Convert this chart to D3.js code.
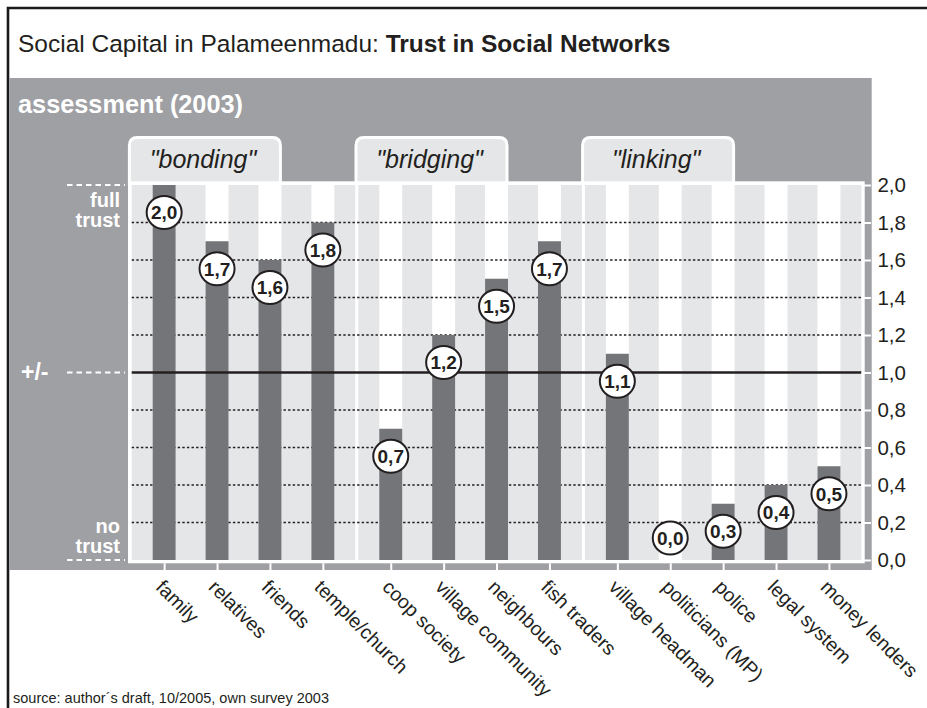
<!DOCTYPE html>
<html>
<head>
<meta charset="utf-8">
<script src="https://cdn.jsdelivr.net/npm/d3@7"></script>
<style>
  html, body { margin: 0; padding: 0; background: #fff; }
  svg { display: block; font-family: "Liberation Sans", Arial, Helvetica, sans-serif; }
</style>
</head>
<body>
<svg id="chart" width="927" height="708"></svg>
<script>
const groups = ['"bonding"', '"bridging"', '"linking"']
const categories = ['family', 'relatives', 'friends', 'temple/church',
  'coop society', 'village community', 'neighbours', 'fish traders',
  'village headman', 'politicians (MP)', 'police', 'legal system', 'money lenders']
const categoryGroup = ['"bonding"', '"bonding"', '"bonding"', '"bonding"',
  '"bridging"', '"bridging"', '"bridging"', '"bridging"',
  '"linking"', '"linking"', '"linking"', '"linking"', '"linking"']
const trust = [2.0, 1.7, 1.6, 1.8, 0.7, 1.2, 1.5, 1.7, 1.1, 0.0, 0.3, 0.4, 0.5]
const yTicks = [0, 0.2, 0.4, 0.6, 0.8, 1.0, 1.2, 1.4, 1.6, 1.8, 2.0]
const levelMarks = [2.0, 1.0, 0.0]
const levelText = [['full', 'trust'], ['+/-'], ['no', 'trust']]

const COLORS = {
  ink: '#231f20',
  panel: '#9fa0a4',
  light: '#e5e6e8',
  bar: '#747578'
}

const svg = d3.select('#chart')
const fmt = (v) => d3.format('.1f')(v).replace('.', ',')

const plotLeft = 131.7
const step = 52.9
const pad = 6
const sep = 3
const plotTop = 185
const plotBottom = 560

// group extents depend only on how many categories each group holds
let gx = plotLeft
const groupExtent = new Map()
groups.forEach((g) => {
  const n = categoryGroup.filter((c) => c === g).length
  const x0 = gx
  const x1 = gx + n * step + 2 * pad
  groupExtent.set(g, [x0, x1])
  gx = x1 + sep
})
const plotRight = gx - sep

const bandOf = new Map()
groups.forEach((g) => {
  const [x0, x1] = groupExtent.get(g)
  const band = d3.scaleBand()
    .domain(categories.filter((c, i) => categoryGroup[i] === g))
    .range([x0 + pad, x1 - pad])
    .paddingInner(0.566)
    .paddingOuter(0.283)
  band.domain().forEach((c) => bandOf.set(c, band))
})
const xStart = (c) => bandOf.get(c)(c)
const bw = (c) => bandOf.get(c).bandwidth()
const xMid = (c) => xStart(c) + bw(c) / 2

const y = d3.scaleLinear().domain([0, 2]).range([plotBottom, plotTop])

// frame
svg.append('path')
  .attr('d', 'M8,708V8H927')
  .attr('fill', 'none')
  .attr('stroke', '#1a1a1a')
  .attr('stroke-width', 2.6)

// title
const title = svg.append('text')
  .attr('x', 18).attr('y', 52)
  .attr('font-size', 24.5)
  .attr('fill', COLORS.ink)
title.append('tspan').text('Social Capital in Palameenmadu: ')
title.append('tspan').attr('font-weight', 'bold').text('Trust in Social Networks')

// grey panel
svg.append('rect')
  .attr('x', 9.3).attr('y', 78)
  .attr('width', 871.7 - 9.3).attr('height', 570 - 78)
  .attr('fill', COLORS.panel)

svg.append('text')
  .attr('x', 18).attr('y', 113)
  .attr('font-size', 25.3)
  .attr('font-weight', 'bold')
  .attr('fill', '#fff')
  .text('assessment (2003)')

// group tabs
const tabW = 154
const tabs = svg.append('g').selectAll('g.tab')
  .data(groups)
  .enter()
  .append('g')
  .attr('class', 'tab')

tabs.append('path')
  .attr('d', (g) => {
    const x0 = groupExtent.get(g)[0] - 2.3
    const x1 = x0 + tabW - 3
    const r = 8
    const t = 137.5
    return `M${x0},186V${t + r}Q${x0},${t} ${x0 + r},${t}H${x1 - r}Q${x1},${t} ${x1},${t + r}V186`
  })
  .attr('fill', COLORS.light)
  .attr('stroke', '#fff')
  .attr('stroke-width', 3)

tabs.append('text')
  .attr('x', (g) => groupExtent.get(g)[0] - 3.7 + tabW / 2 - 2)
  .attr('y', 168)
  .attr('text-anchor', 'middle')
  .attr('font-size', 25)
  .attr('font-style', 'italic')
  .attr('fill', COLORS.ink)
  .text((g) => g)

// plot area
svg.append('rect')
  .attr('x', plotLeft - 3.7).attr('y', plotTop - 3.7)
  .attr('width', plotRight - plotLeft + 7).attr('height', plotBottom - plotTop + 7)
  .attr('fill', '#fff')

svg.append('g').selectAll('rect')
  .data(groups)
  .enter()
  .append('rect')
  .attr('x', (g) => groupExtent.get(g)[0])
  .attr('width', (g) => groupExtent.get(g)[1] - groupExtent.get(g)[0])
  .attr('y', plotTop)
  .attr('height', plotBottom - plotTop)
  .attr('fill', COLORS.light)

svg.append('g').selectAll('rect')
  .data(categories)
  .enter()
  .append('rect')
  .attr('x', (c) => xStart(c))
  .attr('width', (c) => bw(c))
  .attr('y', plotTop)
  .attr('height', plotBottom - plotTop)
  .attr('fill', '#fff')

// dotted grid
svg.append('g').selectAll('line')
  .data(yTicks.filter((v) => v > 0 && v < 2 && v !== 1))
  .enter()
  .append('line')
  .attr('x1', plotLeft).attr('x2', plotRight)
  .attr('y1', (v) => y(v)).attr('y2', (v) => y(v))
  .attr('stroke', COLORS.ink)
  .attr('stroke-width', 1.4)
  .attr('stroke-dasharray', '2.4,2.2')

// bars
svg.append('g').selectAll('rect')
  .data(trust)
  .enter()
  .append('rect')
  .attr('x', (d, i) => xStart(categories[i]))
  .attr('width', (d, i) => bw(categories[i]))
  .attr('y', (d) => y(d))
  .attr('height', (d) => y(0) - y(d))
  .attr('fill', COLORS.bar)

// neutral line
svg.append('line')
  .attr('x1', plotLeft).attr('x2', plotRight)
  .attr('y1', y(1)).attr('y2', y(1))
  .attr('stroke', COLORS.ink)
  .attr('stroke-width', 2.6)

// right axis
const yAxis = svg.append('g')
  .attr('transform', `translate(${plotRight},0)`)
  .call(d3.axisRight(y).tickValues(yTicks).tickFormat(fmt).tickSize(9.5).tickPadding(6.5))
yAxis.select('.domain').remove()
yAxis.selectAll('.tick line').attr('stroke', '#fff').attr('stroke-width', 2)
yAxis.selectAll('.tick text')
  .attr('fill', COLORS.ink)
  .attr('font-size', 20.5)
  .attr('font-family', null)

// bottom axis, ticks at category centres
const xPoint = d3.scaleOrdinal().domain(categories).range(categories.map(xMid))
const xAxis = svg.append('g')
  .attr('transform', `translate(0,${plotBottom + 3.3})`)
  .call(d3.axisBottom(xPoint).tickSize(7).tickSizeOuter(0))
xAxis.select('.domain').remove()
xAxis.selectAll('.tick line').attr('stroke', '#fff').attr('stroke-width', 2)
xAxis.selectAll('.tick text')
  .attr('x', 0).attr('y', 0).attr('dy', null)
  .attr('transform', 'translate(-10,25) rotate(45)')
  .attr('text-anchor', 'start')
  .attr('fill', COLORS.ink)
  .attr('font-size', 19.5)
  .attr('font-family', null)

// value badges
const badges = svg.append('g').selectAll('g')
  .data(trust)
  .enter()
  .append('g')
  .attr('transform', (d, i) => `translate(${xMid(categories[i])},${Math.min(y(d) + 27.5, y(0) - 22)})`)
badges.append('ellipse')
  .attr('rx', 17.5).attr('ry', 16.5)
  .attr('fill', '#fff')
  .attr('stroke', COLORS.ink)
  .attr('stroke-width', 2)
badges.append('text')
  .attr('text-anchor', 'middle')
  .attr('dy', '0.36em')
  .attr('font-size', 19)
  .attr('font-weight', 'bold')
  .attr('fill', COLORS.ink)
  .text((d) => fmt(d))

// trust level markers on the left
const levels = svg.append('g').selectAll('g')
  .data(levelMarks)
  .enter()
  .append('g')
levels.append('line')
  .attr('x1', 67).attr('x2', 125)
  .attr('y1', (v) => y(v)).attr('y2', (v) => y(v))
  .attr('stroke', '#fff')
  .attr('stroke-width', 2)
  .attr('stroke-dasharray', '5.5,4')
levels.each(function (v, i) {
  const lines = levelText[i]
  const g = d3.select(this)
  if (lines.length === 1) {
    g.append('text')
      .attr('x', 21).attr('y', y(v) + 7)
      .attr('font-size', 23)
      .attr('font-weight', 'bold')
      .attr('fill', '#fff')
      .text(lines[0])
    return
  }
  const base = v > 1 ? y(v) + 22 : y(v) - 27
  lines.forEach((t, k) => {
    g.append('text')
      .attr('x', 120).attr('y', base + k * 20)
      .attr('text-anchor', 'end')
      .attr('font-size', 20)
      .attr('font-weight', 'bold')
      .attr('fill', '#fff')
      .text(t)
  })
})

// source
svg.append('text')
  .attr('x', 13).attr('y', 703)
  .attr('font-size', 14.5)
  .attr('fill', COLORS.ink)
  .text('source: author´s draft, 10/2005, own survey 2003')
</script>
</body>
</html>
